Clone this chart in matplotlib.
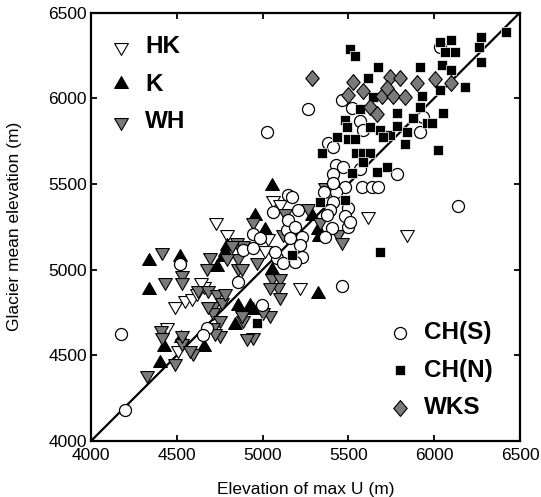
import matplotlib
matplotlib.use("Agg")
import matplotlib.pyplot as plt

plt.rcParams["font.family"] = ["Liberation Sans", "DejaVu Sans"]

# ---- data: elevation of max U (x) vs glacier mean elevation (y), metres ----
hk_x = [4730, 4795, 4490, 4550, 4590, 4620, 4445, 4505, 5060, 4660, 5030, 5015,
        5100, 5615, 5840, 5220, 4640]
hk_y = [5280, 5205, 4785, 4825, 4835, 4865, 4665, 4530, 5405, 4905, 5185, 5115,
        5380, 5310, 5205, 4900, 4930]

k_x = [4340, 4520, 4340, 4425, 4525, 4400, 5055, 4735, 4770, 4855, 4945, 4840,
       4660, 4795, 4925, 4955, 5015, 4780, 5055, 5290, 5320, 5325, 5330]
k_y = [5050, 5075, 4880, 4550, 4600, 4455, 5485, 5015, 5075, 4785, 4765, 4675,
       4550, 5135, 4785, 5310, 5230, 5100, 5000, 5310, 5230, 4855, 5190]

wh_x = [4415, 4530, 4530, 4430, 4410, 4415, 4530, 4595, 4490, 4325, 4850, 4885,
        4945, 4695, 4675, 4625, 4710, 4710, 4750, 4710, 4885, 4945, 5045, 4575,
        4970, 4855, 4680, 4735, 4765, 4780, 4680, 4750, 4880, 5005, 4910, 4530,
        5130, 5120, 4820, 4855, 4880, 5055, 5100, 5090, 5045, 5100, 4725, 5265,
        5335, 5440, 5465, 5365, 4795]
wh_y = [5105, 4970, 4930, 4925, 4650, 4605, 4570, 4515, 4455, 4385, 5160, 5145,
        5280, 5075, 5010, 4880, 4785, 4750, 4705, 4665, 4705, 4605, 4735, 4530,
        5045, 5010, 4880, 4855, 4810, 4865, 4785, 4620, 4735, 4750, 4600, 4620,
        5330, 5205, 5145, 5070, 5010, 4950, 4950, 4900, 4900, 4840, 4630, 5360,
        5275, 5205, 5160, 5480, 5070]

chs_x = [4200, 4175, 4520, 5025, 5265, 6140, 5465, 6035, 5060, 4995, 4675, 4655,
         4855, 4945, 4885, 5085, 4985, 4945, 5150, 5145, 5075, 5120, 5170, 5205,
         5150, 5190, 5230, 5405, 5500, 5365, 5230, 5190, 5220, 5380, 5425, 5470,
         5410, 5570, 5480, 5580, 5640, 5675, 5425, 5410, 5500, 5480, 5395, 5375,
         5465, 5520, 5570, 5585, 5920, 5410, 5785, 5410, 5355, 5935, 5510, 5160]
chs_y = [4180, 4625, 5030, 5800, 5935, 5370, 4905, 6300, 5335, 4795, 4660, 4620,
         4925, 5205, 5115, 5070, 5185, 5125, 5435, 5230, 5105, 5040, 5425, 5350,
         5290, 5250, 5190, 5245, 5250, 5190, 5075, 5045, 5145, 5740, 5610, 5600,
         5555, 5585, 5480, 5480, 5480, 5480, 5455, 5395, 5360, 5310, 5350, 5320,
         5990, 5945, 5865, 5815, 5800, 5715, 5555, 5505, 5450, 5890, 5275, 5185]

chn_x = [5510, 5540, 5675, 5615, 5920, 6045, 6095, 6180, 6035, 5570, 5645, 5930,
         5920, 5480, 5490, 5435, 5500, 5545, 5585, 5625, 5785, 5875, 5960, 6050,
         5840, 5745, 5830, 6025, 5625, 5685, 5700, 5345, 5520, 5665, 5725, 6035,
         6065, 6120, 6270, 6260, 6420, 6275, 6095, 5990, 5785, 5585, 5335, 5480,
         5685, 5170, 4970, 5540]
chn_y = [6285, 6245, 6180, 6120, 6180, 6195, 6165, 6065, 6050, 5935, 6005, 6010,
         5950, 5875, 5830, 5775, 5760, 5680, 5680, 5680, 5915, 5885, 5855, 5915,
         5800, 5785, 5730, 5700, 5830, 5815, 5775, 5680, 5565, 5570, 5600, 6330,
         6270, 6270, 6355, 6300, 6385, 6210, 6340, 5855, 5835, 5630, 5395, 5405,
         5105, 5085, 4690, 5760]

wks_x = [5290, 5525, 5745, 5800, 5900, 6005, 6095, 5500, 5585, 5695, 5760, 5830,
         5725, 5625, 5665]
wks_y = [6120, 6095, 6125, 6120, 6090, 6110, 6090, 6020, 6040, 6010, 6010, 6005,
         6060, 5950, 5905]

axis_range = [4000, 6500]
tick_values = [4000, 4500, 5000, 5500, 6000, 6500]

# ---- marker shapes ----
tri_down = [(-1.0, 0.577), (1.0, 0.577), (0.0, -1.155), (-1.0, 0.577)]
tri_up = [(x, -y) for x, y in tri_down]
diamond = [(0.0, 1.0), (0.85, 0.0), (0.0, -1.0), (-0.85, 0.0), (0.0, 1.0)]
gray = "#7a7a7a"

fig = plt.figure(figsize=(5.41, 4.97), dpi=100)
ax = fig.add_axes([91 / 541, 56 / 497, 429 / 541, 428.5 / 497])

ax.plot(axis_range, axis_range, color="black", lw=1.6, zorder=1)

tri_s = 130
h_hk = ax.scatter(hk_x, hk_y, s=tri_s, marker=tri_down, facecolor="white",
                  edgecolor="black", linewidths=0.8, zorder=2, label="HK")
h_k = ax.scatter(k_x, k_y, s=tri_s, marker=tri_up, facecolor="black",
                 edgecolor="black", linewidths=0.8, zorder=2, label="K")
h_wh = ax.scatter(wh_x, wh_y, s=tri_s, marker=tri_down, facecolor=gray,
                  edgecolor="black", linewidths=0.8, zorder=2, label="WH")
h_chs = ax.scatter(chs_x, chs_y, s=75, marker="o", facecolor="white",
                   edgecolor="black", linewidths=0.9, zorder=3, label="CH(S)")
h_chn = ax.scatter(chn_x, chn_y, s=42, marker="s", facecolor="black",
                   edgecolor="white", linewidths=0.5, zorder=4, label="CH(N)")
h_wks = ax.scatter(wks_x, wks_y, s=130, marker=diamond, facecolor=gray,
                   edgecolor="black", linewidths=0.8, zorder=5, label="WKS")

ax.set_xlim(axis_range)
ax.set_ylim(axis_range)
ax.set_xticks(tick_values)
ax.set_yticks(tick_values)
ax.tick_params(direction="in", top=True, right=True, length=4, width=1.3,
               labelsize=12.5)
ax.tick_params(axis="x", pad=5)
ax.tick_params(axis="y", pad=3)
for sp in ax.spines.values():
    sp.set_linewidth(1.6)

ax.set_xlabel("Elevation of max U (m)", fontsize=12.5, labelpad=14)
ax.set_ylabel("Glacier mean elevation (m)", fontsize=12.5, labelpad=19)

leg_font = {"weight": "bold", "size": 17.5}
leg_kw = dict(frameon=False, prop=leg_font, handletextpad=0.45,
              labelspacing=0.6, handlelength=1.1)
leg1 = ax.legend([h_hk, h_k, h_wh], ["HK", "K", "WH"], loc="upper left",
                 bbox_to_anchor=(0.0, 0.986), borderaxespad=0.28, **leg_kw)
ax.add_artist(leg1)
ax.legend([h_chs, h_chn, h_wks], ["CH(S)", "CH(N)", "WKS"], loc="lower right",
          bbox_to_anchor=(1.0, -0.013), borderaxespad=0.72, **leg_kw)

fig.savefig("out.png", dpi=100)
